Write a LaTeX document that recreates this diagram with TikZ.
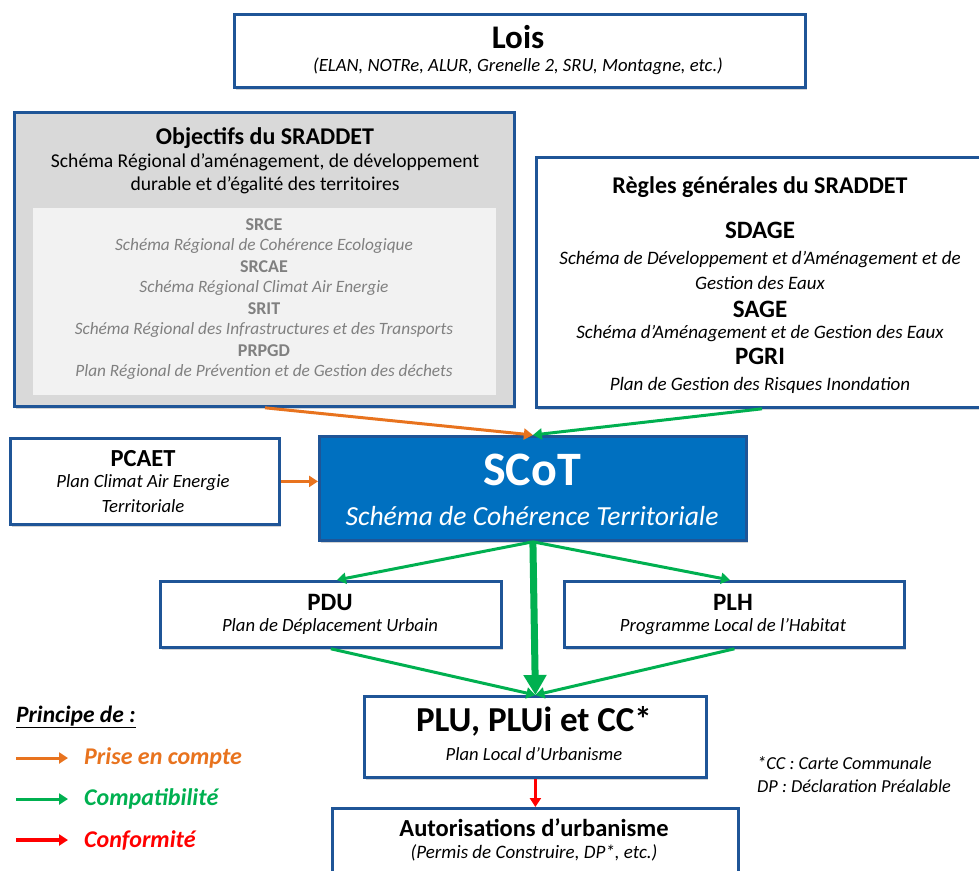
\documentclass[tikz,border=0pt]{standalone}
\usepackage{fontspec}
\setmainfont{Carlito}
\usetikzlibrary{arrows.meta,shadows}
\definecolor{bbord}{HTML}{1F5597}
\definecolor{scotblue}{HTML}{0070C0}
\definecolor{cgreen}{HTML}{00B050}
\definecolor{corange}{HTML}{E8731E}
\definecolor{cred}{HTML}{FF0000}
\definecolor{gfill}{HTML}{D9D9D9}
\definecolor{gin}{HTML}{F2F2F2}
\definecolor{gtext}{HTML}{808080}
\newcommand{\fs}[1]{\fontsize{#1}{#1}\selectfont}
\begin{document}
\begin{tikzpicture}[x=1pt,y=-1pt,
  box/.style={draw=bbord, line width=2.8pt, fill=white, anchor=north west, inner sep=0pt,
    drop shadow={opacity=0.35, shadow xshift=2pt, shadow yshift=-3pt}},
  txt/.style={inner sep=0pt, align=center},
  arrO/.style={draw=corange, line width=3pt, -{Triangle[length=9pt,width=11pt]}},
  arrG/.style={draw=cgreen, line width=3pt, -{Triangle[length=9pt,width=11pt]}},
  arrGT/.style={draw=cgreen, line width=7pt, -{Triangle[length=20pt,width=22pt]}},
  arrR/.style={draw=cred, line width=3pt, -{Triangle[length=9pt,width=11pt]}}]
\useasboundingbox (0,0) rectangle (979,870);
\clip (0,0) rectangle (979,870);

% Lois
\node[box, minimum width=571pt, minimum height=73pt] (lois) at (233,13) {};
\node[txt, font=\fs{33}\bfseries] (loist) at (518,37) {Lois};
\node[txt, font=\fs{18.7}\itshape] (loiss) at (518,66) {(ELAN, NOTRe, ALUR, Grenelle 2, SRU, Montagne, etc.)};

% Objectifs
\node[box, fill=gfill, minimum width=500pt, minimum height=294pt] (obj) at (13,111) {};
\node[anchor=north west, fill=gin, inner sep=0pt, minimum width=463pt, minimum height=187pt] (objin) at (33,208) {};
\node[txt, font=\fs{24}\bfseries] (objt) at (265,138) {Objectifs du SRADDET};
\node[txt, font=\fs{19.6}] (objs1) at (265,162) {Schéma Régional d’aménagement, de développement};
\node[txt, font=\fs{19.6}] (objs2) at (265,185) {durable et d’égalité des territoires};
\begin{scope}[every node/.style={txt, text=gtext}]
\node[font=\fs{18}\bfseries] (srce) at (264,225) {SRCE};
\node[font=\fs{17.3}\itshape] (srces) at (264,246) {Schéma Régional de Cohérence Ecologique};
\node[font=\fs{18}\bfseries] (srcae) at (264,267) {SRCAE};
\node[font=\fs{17.3}\itshape] (srcaes) at (264,288) {Schéma Régional Climat Air Energie};
\node[font=\fs{18}\bfseries] (srit) at (264,309) {SRIT};
\node[font=\fs{17.3}\itshape] (srits) at (264,330) {Schéma Régional des Infrastructures et des Transports};
\node[font=\fs{18}\bfseries] (prpgd) at (264,351) {PRPGD};
\node[font=\fs{17.3}\itshape] (prpgds) at (264,372) {Plan Régional de Prévention et de Gestion des déchets};
\end{scope}

% Regles
\node[box, minimum width=450pt, minimum height=250pt] (regles) at (535,156) {};
\node[txt, font=\fs{24}\bfseries] (reglest) at (760,187) {Règles générales du SRADDET};
\node[txt, font=\fs{25}\bfseries] (sdage) at (760,230) {SDAGE};
\node[txt, font=\fs{19}\itshape] (sdages1) at (760,260) {Schéma de Développement et d’Aménagement et de};
\node[txt, font=\fs{19}\itshape] (sdages2) at (760,283) {Gestion des Eaux};
\node[txt, font=\fs{25}\bfseries] (sage) at (760,309) {SAGE};
\node[txt, font=\fs{19}\itshape] (sages) at (760,334) {Schéma d’Aménagement et de Gestion des Eaux};
\node[txt, font=\fs{25}\bfseries] (pgri) at (760,356) {PGRI};
\node[txt, font=\fs{19}\itshape] (pgris) at (760,385) {Plan de Gestion des Risques Inondation};

% PCAET
\node[box, minimum width=269pt, minimum height=86pt] (pcaet) at (9,437) {};
\node[txt, font=\fs{24.5}\bfseries] (pcaett) at (143,459) {PCAET};
\node[txt, font=\fs{18.7}\itshape] (pcaets1) at (143,483) {Plan Climat Air Energie};
\node[txt, font=\fs{18.7}\itshape] (pcaets2) at (143,506) {Territoriale};

% SCoT
\node[box, fill=scotblue, minimum width=427pt, minimum height=104pt] (scot) at (318,435) {};
\node[txt, font=\fs{48}\bfseries, text=white] (scott) at (532,470) {SCoT};
\node[txt, font=\fs{27.6}\itshape, text=white] (scots) at (532,516) {Schéma de Cohérence Territoriale};

% PDU, PLH
\node[box, minimum width=341pt, minimum height=66pt] (pdu) at (159,580) {};
\node[txt, font=\fs{25}\bfseries] (pdut) at (330,602) {PDU};
\node[txt, font=\fs{18.7}\itshape] (pdus) at (330,627) {Plan de Déplacement Urbain};
\node[box, minimum width=340pt, minimum height=66pt] (plh) at (563,580) {};
\node[txt, font=\fs{25}\bfseries] (plht) at (733,602) {PLH};
\node[txt, font=\fs{18.7}\itshape] (plhs) at (733,627) {Programme Local de l’Habitat};

% PLU
\node[box, minimum width=342pt, minimum height=81pt] (plu) at (363,695) {};
\node[txt, font=\fs{35}\bfseries] (plut) at (534,721) {PLU, PLUi et CC*};
\node[txt, font=\fs{18.6}\itshape] (plus) at (534,754) {Plan Local d’Urbanisme};

% Autorisations
\node[box, minimum width=406pt, minimum height=80pt] (aut) at (331,807) {};
\node[txt, font=\fs{24.5}\bfseries] (autt) at (534,828) {Autorisations d’urbanisme};
\node[txt, font=\fs{19}\itshape] (auts) at (534,853) {(Permis de Construire, DP*, etc.)};

% Arrows
\draw[arrO] (265,0 |- obj.south) -- (scot.north);
\draw[arrG] (762,0 |- regles.south) -- (scot.north);
\draw[arrO] (pcaet.east) -- (pcaet.east -| scot.west);
\draw[arrG] (scot.south) -- (337,0 |- pdu.north);
\draw[arrG] (scot.south) -- (730,0 |- plh.north);
\draw[arrG] (pdu.south) -- (plu.north);
\draw[arrG] (plh.south) -- (plu.north);
\draw[arrGT] (scot.south) -- (plu.north);
\draw[arrR] (plu.south) -- (aut.north);

% Legend
\node[anchor=west, inner sep=0pt, font=\fs{23.5}\bfseries\itshape] (princ) at (16,717) {\underline{Principe de :}};
\coordinate (lo1) at (16,758); \coordinate (lo2) at (68,758);
\coordinate (lg1) at (16,799); \coordinate (lg2) at (68,799);
\coordinate (lr1) at (16,840); \coordinate (lr2) at (68,840);
\draw[arrO] (lo1) -- (lo2);
\draw[arrG] (lg1) -- (lg2);
\draw[arrR, line width=4pt] (lr1) -- (lr2);
\node[anchor=west, inner sep=0pt, font=\fs{24}\bfseries\itshape, text=corange] (lpc) at (84,758) {Prise en compte};
\node[anchor=west, inner sep=0pt, font=\fs{24}\bfseries\itshape, text=cgreen] (lcomp) at (84,799) {Compatibilité};
\node[anchor=west, inner sep=0pt, font=\fs{24}\bfseries\itshape, text=cred] (lconf) at (84,840) {Conformité};

% Footnote
\node[anchor=west, inner sep=0pt, font=\fs{18.3}\itshape] (fn1) at (757,763) {*CC : Carte Communale};
\node[anchor=west, inner sep=0pt, font=\fs{18.3}\itshape] (fn2) at (757,786) {DP : Déclaration Préalable};
\end{tikzpicture}
\end{document}
